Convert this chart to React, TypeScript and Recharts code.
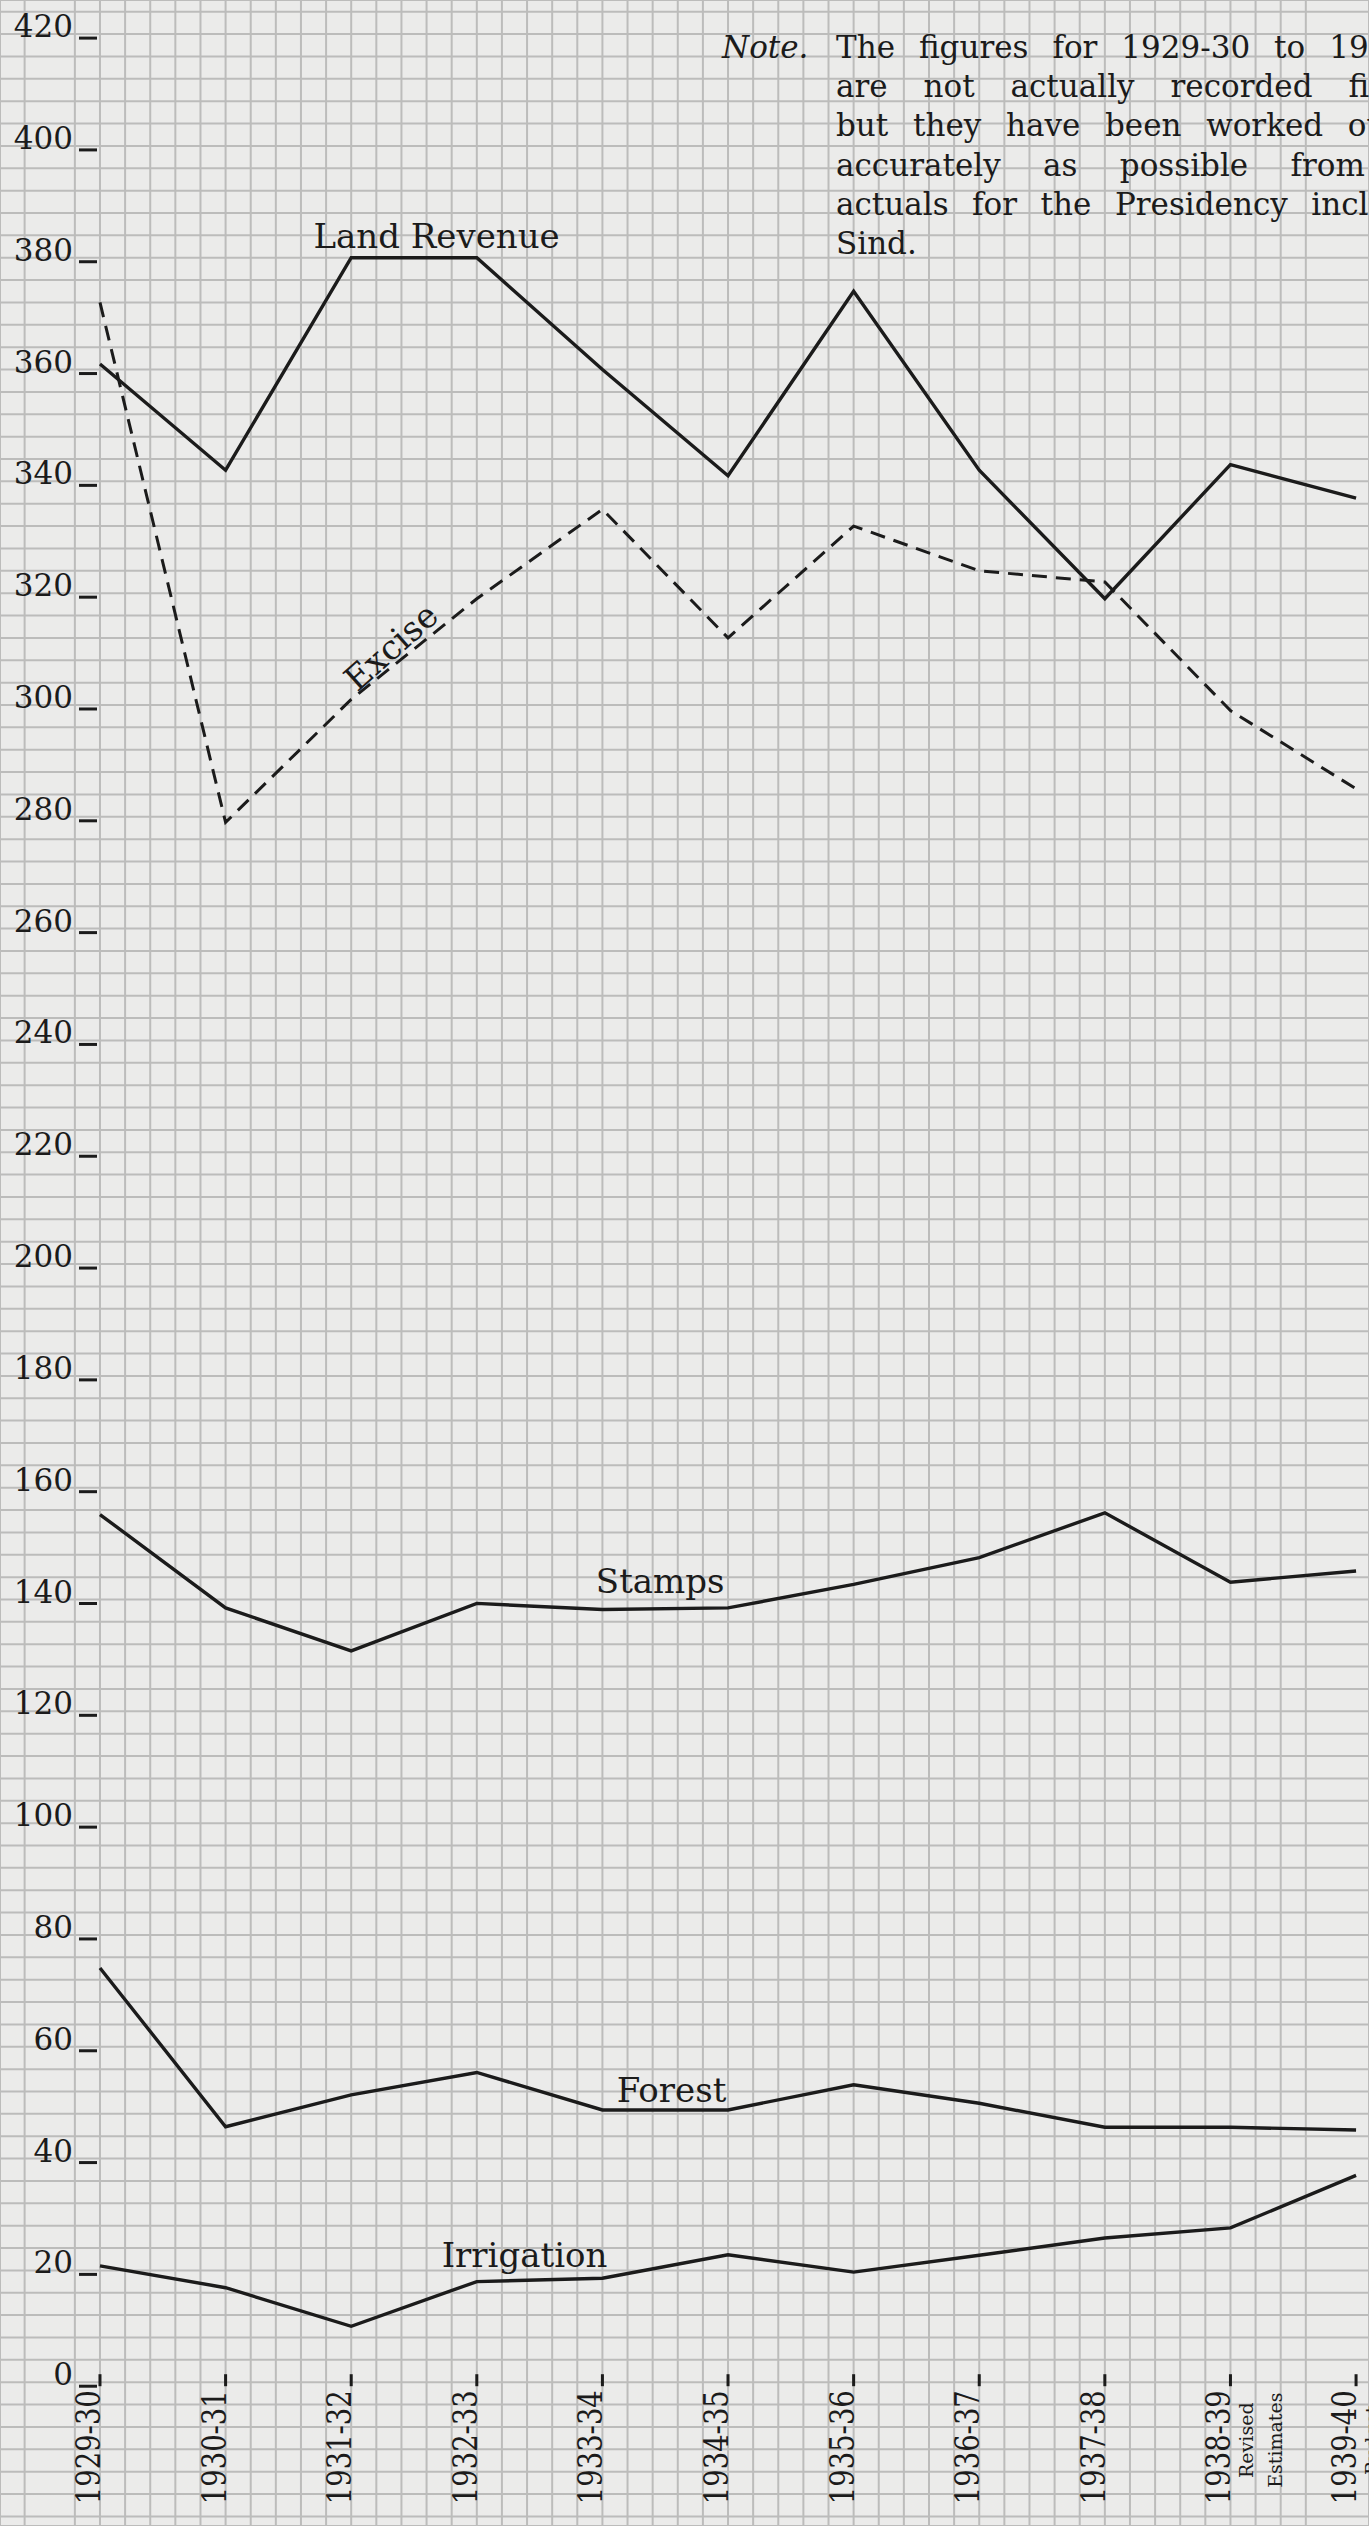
import React from 'react'
import { LineChart, Line, XAxis, YAxis, CartesianGrid, ReferenceDot } from 'recharts'

// years along the bottom
const years = ['1929-30', '1930-31', '1931-32', '1932-33', '1933-34', '1934-35', '1935-36', '1936-37', '1937-38', '1938-39', '1939-40']
const yearNotes: Record<string, string[]> = {
  '1938-39': ['Revised', 'Estimates'],
  '1939-40': ['Budget', 'Estimates'],
}

// values (lakhs)
const landRevenue = [361, 342, 380, 380, 360, 341, 374, 342, 319, 343, 337]
const excise = [372, 279, 301, 319, 335, 312, 332, 324, 322, 299, 285]
const stamps = [155.2, 138.5, 130.8, 139.3, 138.2, 138.5, 142.7, 147.5, 155.5, 143.1, 145.1]
const forest = [74.1, 45.7, 51.4, 55.4, 48.7, 48.7, 53.2, 49.9, 45.6, 45.6, 45.1]
const irrigation = [20.8, 16.9, 10, 18, 18.6, 22.8, 19.7, 22.7, 25.8, 27.6, 37]

const yTicks = [0, 20, 40, 60, 80, 100, 120, 140, 160, 180, 200, 220, 240, 260, 280, 300, 320, 340, 360, 380, 400, 420]

const noteLines = [
  'The figures for 1929-30 to 1935-36',
  'are not actually recorded figures',
  'but they have been worked out as',
  'accurately as possible from the',
  'actuals for the Presidency including',
]
const noteLast = 'Sind.'

const data = years.map((year, i) => ({
  i,
  year,
  landRevenue: landRevenue[i],
  excise: excise[i],
  stamps: stamps[i],
  forest: forest[i],
  irrigation: irrigation[i],
}))

const W = 1369
const H = 2526
const X_DOMAIN: [number, number] = [-0.796, 10.103]
const Y_DOMAIN: [number, number] = [-25.72, 426.1]

// graph paper: 5 squares per year, 5 squares per 20
const gridX = Array.from({ length: 56 }, (_, k) => Math.round((-0.8 + k * 0.2) * 10) / 10)
const gridY = Array.from({ length: 113 }, (_, k) => -24 + 4 * k)

const INK = '#1b1b1b'
const FONT = '"DejaVu Serif", serif'

const YTick = (props: any) => {
  const { y, payload } = props
  return (
    <g>
      <text x={73} y={y + 3} textAnchor="end" fontFamily={FONT} fontSize={31} fill={INK}>
        {payload.value}
      </text>
      <line x1={79} x2={97} y1={y + 4} y2={y + 4} stroke={INK} strokeWidth={3} />
    </g>
  )
}

const YearLabel = ({ cx, cy, label }: { cx: number; cy: number; label: string }) => {
  const notes = yearNotes[label] || []
  const ty = cy + 8
  return (
    <g>
      <line x1={cx} x2={cx} y1={cy - 8} y2={cy + 4} stroke={INK} strokeWidth={3} />
      <text
        x={cx}
        y={ty}
        transform={`rotate(-90 ${cx} ${ty})`}
        textAnchor="end"
        fontFamily={FONT}
        fontSize={34}
        textLength={114}
        lengthAdjust="spacingAndGlyphs"
        fill={INK}
      >
        {label}
      </text>
      {notes.map((n, k) => {
        const nx = cx + 23 + k * 29
        const ny = cy + 58
        return (
          <text
            key={n}
            x={nx}
            y={ny}
            transform={`rotate(-90 ${nx} ${ny})`}
            textAnchor="middle"
            fontFamily={FONT}
            fontSize={19}
            fill={INK}
          >
            {n}
          </text>
        )
      })}
    </g>
  )
}

const SeriesLabel = ({ cx, cy, text, angle = 0 }: { cx: number; cy: number; text: string; angle?: number }) => (
  <text
    x={cx}
    y={cy}
    transform={angle ? `rotate(${angle} ${cx} ${cy})` : undefined}
    textAnchor="middle"
    fontFamily={FONT}
    fontSize={34}
    fill={INK}
  >
    {text}
  </text>
)

const lineProps = {
  type: 'linear' as const,
  stroke: INK,
  strokeWidth: 3.4,
  dot: false,
  activeDot: false,
  isAnimationActive: false,
}

export default function App() {
  return (
    <div
      style={{
        position: 'absolute',
        left: 0,
        top: 0,
        width: W,
        height: H,
        overflow: 'hidden',
        background: '#ebebea',
      }}
    >
      <LineChart width={W} height={H} data={data} margin={{ top: 0, right: 0, bottom: 0, left: 0 }}>
        <XAxis dataKey="i" type="number" domain={X_DOMAIN} allowDataOverflow hide />
        <XAxis xAxisId="grid" dataKey="i" type="number" domain={X_DOMAIN} ticks={gridX} allowDataOverflow hide />
        <YAxis
          type="number"
          domain={Y_DOMAIN}
          ticks={yTicks}
          interval={0}
          allowDataOverflow
          mirror
          axisLine={false}
          tickLine={false}
          tick={YTick}
        />
        <YAxis yAxisId="grid" type="number" domain={Y_DOMAIN} ticks={gridY} interval={0} allowDataOverflow hide />
        <CartesianGrid xAxisId="grid" yAxisId="grid" stroke="#bcbcbb" strokeWidth={2} />

        <Line dataKey="landRevenue" name="Land Revenue" {...lineProps} />
        <Line dataKey="excise" name="Excise" {...lineProps} strokeWidth={3} strokeDasharray="15 9" />
        <Line dataKey="stamps" name="Stamps" {...lineProps} />
        <Line dataKey="forest" name="Forest" {...lineProps} />
        <Line dataKey="irrigation" name="Irrigation" {...lineProps} />

        {years.map((yr, i) => (
          <ReferenceDot
            key={yr}
            x={i}
            y={0}
            r={0}
            ifOverflow="visible"
            shape={(p: any) => <YearLabel cx={p.cx} cy={p.cy} label={yr} />}
          />
        ))}

        <ReferenceDot x={2.68} y={381.8} r={0} ifOverflow="visible" shape={(p: any) => <SeriesLabel cx={p.cx} cy={p.cy} text="Land Revenue" />} />
        <ReferenceDot x={2.38} y={308.8} r={0} ifOverflow="visible" shape={(p: any) => <SeriesLabel cx={p.cx} cy={p.cy} text="Excise" angle={-41.7} />} />
        <ReferenceDot x={4.46} y={141.2} r={0} ifOverflow="visible" shape={(p: any) => <SeriesLabel cx={p.cx} cy={p.cy} text="Stamps" />} />
        <ReferenceDot x={4.55} y={50.1} r={0} ifOverflow="visible" shape={(p: any) => <SeriesLabel cx={p.cx} cy={p.cy} text="Forest" />} />
        <ReferenceDot x={3.38} y={20.6} r={0} ifOverflow="visible" shape={(p: any) => <SeriesLabel cx={p.cx} cy={p.cy} text="Irrigation" />} />
      </LineChart>

      <div
        style={{
          position: 'absolute',
          left: 722,
          top: 28,
          fontFamily: FONT,
          fontSize: 31,
          lineHeight: '39.2px',
          color: INK,
          fontStyle: 'italic',
          whiteSpace: 'nowrap',
        }}
      >
        Note.
      </div>
      <div
        style={{
          position: 'absolute',
          left: 836,
          top: 28,
          width: 622,
          fontFamily: FONT,
          fontSize: 31,
          lineHeight: '39.2px',
          color: INK,
        }}
      >
        {noteLines.map((l) => (
          <div key={l} style={{ textAlign: 'justify', textAlignLast: 'justify', whiteSpace: 'nowrap' }}>
            {l}
          </div>
        ))}
        <div>{noteLast}</div>
      </div>
    </div>
  )
}
